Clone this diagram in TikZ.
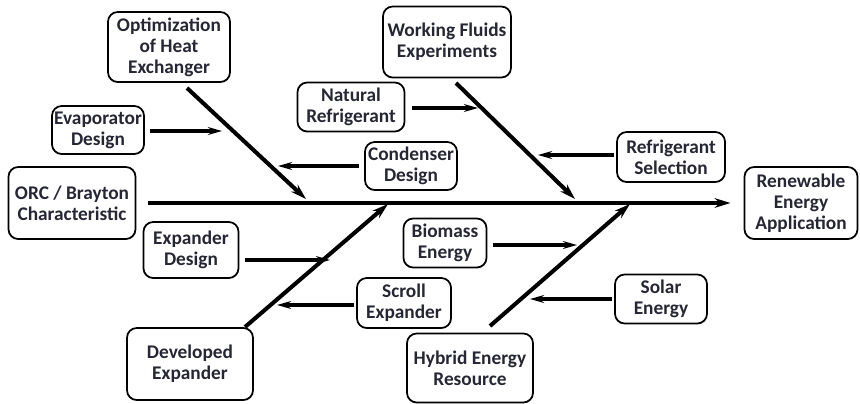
\documentclass[tikz,border=0pt]{standalone}
\usepackage{fontspec}
\setmainfont{Carlito}
\usetikzlibrary{arrows.meta}
\definecolor{inkc}{RGB}{38,38,52}
\begin{document}
\begin{tikzpicture}[x=0.02cm,y=-0.02cm,
  box/.style={draw, rounded corners=5.5pt, line width=1pt, align=center, text=inkc,
    font=\bfseries\fontsize{11}{12}\selectfont, inner sep=0pt},
  bone/.style={line width=2.3pt, -{Stealth[length=9pt,width=5.5pt]}},
  spine/.style={line width=2pt, -{Stealth[length=9pt,width=5.5pt]}},
  feed/.style={line width=1.9pt, -{Stealth[length=8pt,width=4.5pt]}}]
\useasboundingbox (0,0) rectangle (860,403);

\node[box, minimum width=2.44cm, minimum height=1.4cm] (opt) at (169,47) {Optimization\\of Heat\\Exchanger};
\node[box, minimum width=2.56cm, minimum height=1.42cm] (wf) at (447,42) {Working Fluids\\Experiments};
\node[box, minimum width=2.14cm, minimum height=0.98cm] (natref) at (351,107) {Natural\\Refrigerant};
\node[box, minimum width=1.84cm, minimum height=0.96cm] (evap) at (98,130) {Evaporator\\Design};
\node[box, minimum width=1.84cm, minimum height=0.96cm] (cond) at (411,166) {Condenser\\Design};
\node[box, minimum width=2.16cm, minimum height=1.0cm] (refsel) at (671,157) {Refrigerant\\Selection};
\node[box, minimum width=2.54cm, minimum height=1.44cm] (orc) at (72,203) {ORC / Brayton\\Characteristic};
\node[box, minimum width=2.26cm, minimum height=1.44cm] (rea) at (801,203) {Renewable\\Energy\\Application};
\node[box, minimum width=1.9cm, minimum height=1.12cm] (expd) at (191,250) {Expander\\Design};
\node[box, minimum width=1.66cm, minimum height=0.98cm] (bio) at (445,243) {Biomass\\Energy};
\node[box, minimum width=1.88cm, minimum height=1.0cm] (scroll) at (404,303) {Scroll\\Expander};
\node[box, minimum width=1.84cm, minimum height=0.98cm] (solar) at (661,299) {Solar\\Energy};
\node[box, minimum width=2.52cm, minimum height=1.44cm] (devexp) at (190,364) {Developed\\Expander};
\node[box, minimum width=2.52cm, minimum height=1.38cm] (hybrid) at (470,368) {Hybrid Energy\\Resource};

\coordinate (s1) at (187,88);
\coordinate (j1) at (306,199);
\coordinate (s2) at (456,83);
\coordinate (j2) at (575,199);
\coordinate (s3) at (245,327);
\coordinate (j3) at (388,204);
\coordinate (s4) at (490,326);
\coordinate (j4) at (630,204);

\coordinate (a1) at (222,131);
\coordinate (a2) at (278,166);
\coordinate (a3) at (478,108);
\coordinate (a4) at (538,155);
\coordinate (a5) at (330,260);
\coordinate (a6) at (577,245);
\coordinate (a7) at (277,305);
\coordinate (a8) at (530,299);

\path[draw,spine,shorten <=6.5pt,shorten >=7.5pt] (orc) -- (rea);

\path[draw,bone] (s1) -- (j1);
\path[draw,bone] (s2) -- (j2);
\path[draw,bone] (s3) -- (j3);
\path[draw,bone] (s4) -- (j4);

\path[draw,feed,shorten <=3pt] (a1 -| evap.east) -- (a1);
\path[draw,feed,shorten <=3pt] (a2 -| cond.west) -- (a2);
\path[draw,feed,shorten <=4pt] (a3 -| natref.east) -- (a3);
\path[draw,feed,shorten <=1pt] (a4 -| refsel.west) -- (a4);
\path[draw,feed,shorten <=3pt] (a5 -| expd.east) -- (a5);
\path[draw,feed,shorten <=3pt] (a6 -| bio.east) -- (a6);
\path[draw,feed,shorten <=1pt] (a7 -| scroll.west) -- (a7);
\path[draw,feed,shorten <=1pt] (a8 -| solar.west) -- (a8);
\end{tikzpicture}
\end{document}
